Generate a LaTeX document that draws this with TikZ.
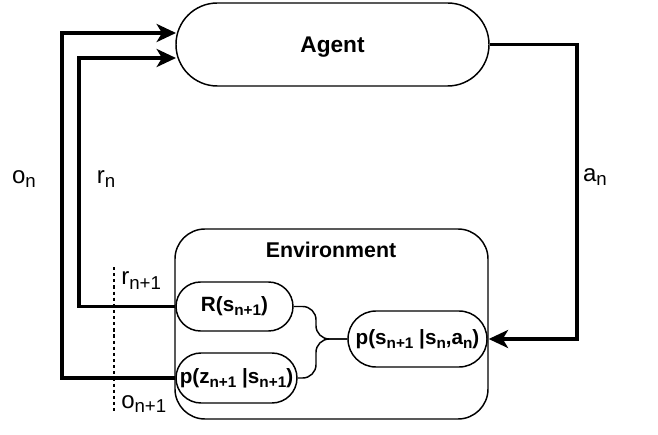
\documentclass[tikz,border=0pt]{standalone}
\usepackage{fontspec}
\setmainfont{Liberation Sans}
\usetikzlibrary{arrows.meta}

% lowered, smaller text used for indices
\newcommand{\lowtxt}[1]{\raisebox{-0.35ex}{\fontsize{14}{16}\selectfont #1}}
\newcommand{\lowsm}[1]{\raisebox{-0.35ex}{\fontsize{11.5}{13}\selectfont #1}}

\begin{document}
\begin{tikzpicture}[x=0.75pt,y=-0.75pt,
  box/.style={draw, line width=1.1pt, inner sep=0pt, align=center},
  boxtext/.style={font=\bfseries\fontsize{15.5}{18}\selectfont},
  flow/.style={line width=2.7pt, -{Stealth[length=14.5pt,width=13.5pt,inset=4pt]}},
  link/.style={line width=1.1pt, rounded corners=10pt},
  cut/.style={line width=1.3pt, dash pattern=on 2.4pt off 2.2pt},
  lbl/.style={inner sep=0pt, font=\fontsize{18}{21}\selectfont}]
\useasboundingbox (0,0) rectangle (658,435);

% agent
\node[box, rounded corners=31pt, minimum width=234.75pt, minimum height=62.25pt,
      text depth=0pt, font=\bfseries\fontsize{17}{20}\selectfont] (agent) at (332.5,44.5) {Agent};

% environment and its parts
\node[box, rounded corners=22.5pt, minimum width=234.75pt, minimum height=142.5pt] (env) at (331.5,324) {};
\node[inner sep=0pt, font=\bfseries\fontsize{16}{19}\selectfont] (envlbl) at (331,250) {Environment};

\node[box, boxtext, rounded corners=18.4pt, minimum width=87.75pt, minimum height=36.75pt]
  (rew) at (234.5,306.5) {R(s\lowsm{n+1})};
\node[box, boxtext, rounded corners=18.75pt, minimum width=90.75pt, minimum height=37.5pt]
  (pz) at (236.5,378) {p(z\lowsm{n+1} |s\lowsm{n+1})};
\node[box, boxtext, rounded corners=21pt, minimum width=104.25pt, minimum height=42pt]
  (pmid) at (417.5,339) {p(s\lowsm{n+1} |s\lowsm{n},a\lowsm{n})};

% brace joining the two outputs to the transition model
\coordinate (J) at (316,339);
\draw[link] (rew.east) -| (J) -- (pmid.west);
\draw[link] (pz.east) -| (J) -- (pmid.west);

% signal loops
\coordinate (oin) at (176,33);
\coordinate (rin) at (176,58);
\draw[flow] (pz.west) -- ++(-113,0) |- (oin);
\draw[flow] (rew.west) -- ++(-96,0) |- (rin);
\draw[flow] (agent.east) -- ++(87,0) |- (env.east |- pmid.east);

% time step cut
\coordinate (dtop) at (114,267);
\coordinate (dbot) at (114,412);
\draw[cut] (dtop) -- (dbot);

% labels
\node[lbl] (on) at (24,179) {o\lowtxt{n}};
\node[lbl] (rn) at (106,179) {r\lowtxt{n}};
\node[lbl] (an) at (595,177) {a\lowtxt{n}};
\node[lbl, anchor=base west] (rn1) at (121,285) {r\lowtxt{n+1}};
\node[lbl, anchor=base west] (on1) at (121,408) {o\lowtxt{n+1}};
\end{tikzpicture}
\end{document}
